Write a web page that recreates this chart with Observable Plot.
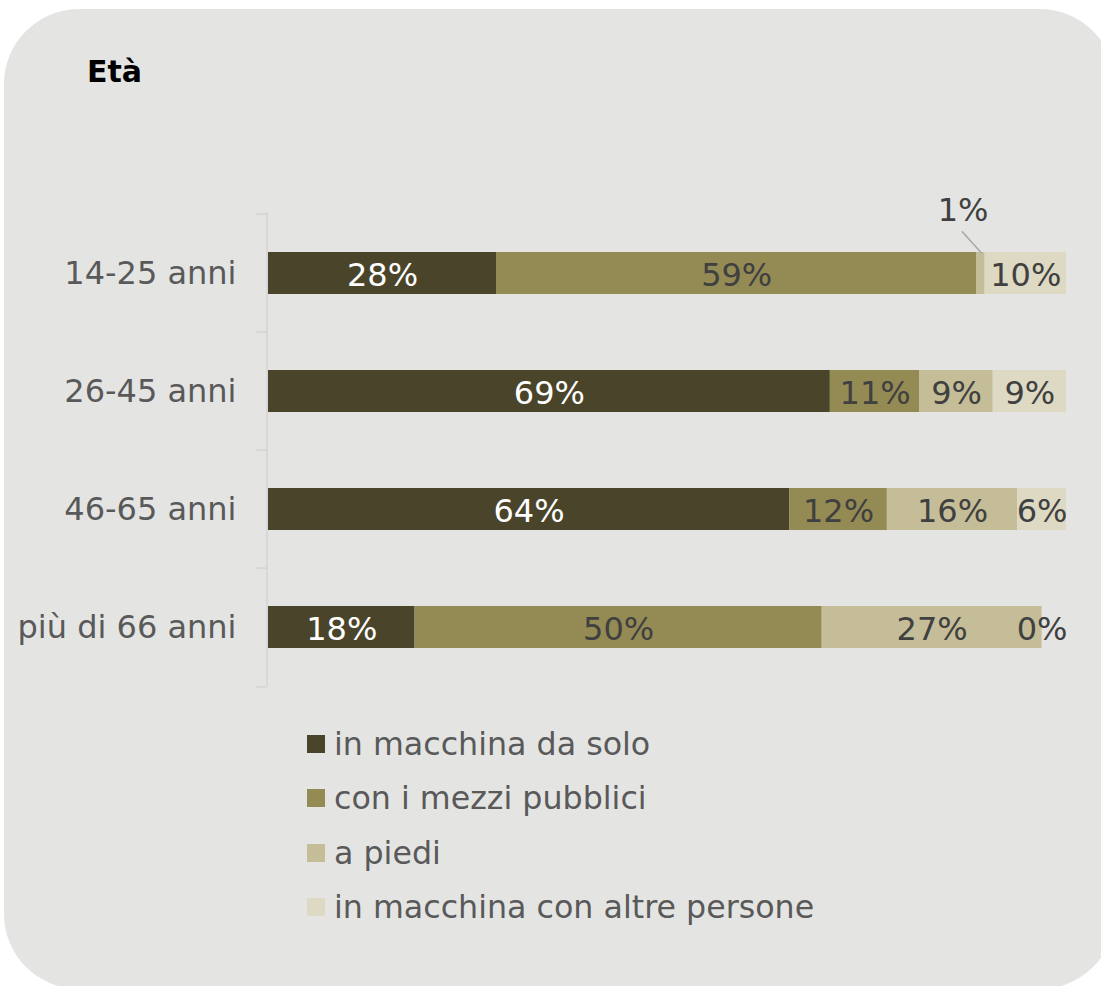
<!DOCTYPE html>
<html>
<head>
<meta charset="utf-8">
<script src="https://cdn.jsdelivr.net/npm/d3@7"></script>
<script src="https://cdn.jsdelivr.net/npm/@observablehq/plot@0.6"></script>
<style>
  html, body { margin: 0; padding: 0; background: #ffffff; }
  #page { position: relative; width: 1101px; height: 986px; overflow: hidden; font-family: "DejaVu Sans", Verdana, sans-serif; }
  #bg { position: absolute; left: 4px; top: 9px; width: 1111px; height: 980px; border-radius: 75px; background: #e4e5e3; }
  #title { position: absolute; left: 87px; top: 57px; font-size: 30px; line-height: 1; font-weight: bold; color: #000; }
  #chart { position: absolute; left: 0; top: 0; }
  #legend { position: absolute; left: 307px; top: 717px; }
  .item { display: flex; align-items: center; height: 54.3px; font-size: 31.7px; color: #595959; white-space: nowrap; }
  .sw { width: 18px; height: 18px; margin-right: 9px; flex: none; }
</style>
</head>
<body>
<div id="page">
  <div id="bg"></div>
  <div id="title">Età</div>
  <div id="chart"></div>
  <div id="legend"></div>
</div>
<script>
const ages = ["14-25 anni", "26-45 anni", "46-65 anni", "più di 66 anni"];
const modes = ["in macchina da solo", "con i mezzi pubblici", "a piedi", "in macchina con altre persone"];
const soloValues = [28, 69, 64, 18];
const pubbliciValues = [59, 11, 12, 50];
const piediValues = [1, 9, 16, 27];
const altreValues = [10, 9, 6, 0];
const modeColors = ["#4a452a", "#948a54", "#c4bd97", "#ddd9c3"];
const callouts = [["14-25 anni", "a piedi"]];

const series = [soloValues, pubbliciValues, piediValues, altreValues];
const rows = ages.flatMap((age, i) => modes.map((mode, j) => ({age, mode, value: series[j][i]})));
const totals = ages.map((_, i) => d3.sum(series, s => s[i]));
const maxTotal = d3.max(totals);
const isCallout = d => callouts.some(([a, m]) => a === d.age && m === d.mode);

const W = 1101, H = 700, mT = 212, mB = 13, mL = 268, mR = 35;
const step = (H - mT - mB) / ages.length;
const axisColor = "#d3d3d3";

const plot = Plot.plot({
  width: W, height: H,
  marginLeft: mL, marginRight: mR, marginTop: mT, marginBottom: mB,
  style: {background: "transparent", fontFamily: "DejaVu Sans, Verdana, sans-serif", overflow: "visible"},
  x: {domain: [0, maxTotal], axis: null},
  y: {domain: ages, paddingInner: 0.646, paddingOuter: 0.323, axis: null},
  color: {domain: modes, range: modeColors},
  marks: [
    Plot.ruleX([0], {dx: -1.5, stroke: axisColor, strokeWidth: 1.5}),
    Plot.axisY(ages, {label: null, tickSize: 10, tickFormat: () => "", dy: -step / 2, dx: -1.5, stroke: axisColor, strokeWidth: 1.5}),
    Plot.axisY([ages[ages.length - 1]], {label: null, tickSize: 10, tickFormat: () => "", dy: step / 2, dx: -1.5, stroke: axisColor, strokeWidth: 1.5}),
    Plot.axisY(ages, {label: null, tickSize: 0, tickPadding: 32, fontSize: 32, color: "#595959"}),
    Plot.barX(rows, Plot.stackX({x: "value", y: "age", fill: "mode", z: "mode"})),
    Plot.text(rows, Plot.stackX({
      x: "value", y: "age", z: "mode",
      text: d => isCallout(d) ? null : d.value + "%",
      fill: d => d.mode === modes[0] ? "#ffffff" : "#404040",
      fontSize: 32, dy: 2
    })),
    Plot.text(rows, Plot.stackX({
      x: "value", y: "age", z: "mode",
      text: d => isCallout(d) ? d.value + "%" : null,
      fill: "#404040", fontSize: 32, dx: -18, dy: -63
    })),
    Plot.vector(rows, Plot.stackX({
      x: "value", y: "age", z: "mode",
      length: 28, rotate: -42, anchor: "start", dy: -21,
      stroke: "#a6a6a6", strokeWidth: 1.5,
      strokeOpacity: d => isCallout(d) ? 1 : 0,
      shape: {draw(context, l) { context.moveTo(0, 0); context.lineTo(0, -l); }}
    }))
  ]
});
document.getElementById("chart").appendChild(plot);

const legend = d3.select("#legend");
modes.forEach((m, i) => {
  const it = legend.append("div").attr("class", "item");
  it.append("div").attr("class", "sw").style("background", modeColors[i]);
  it.append("span").text(m);
});
</script>
</body>
</html>
